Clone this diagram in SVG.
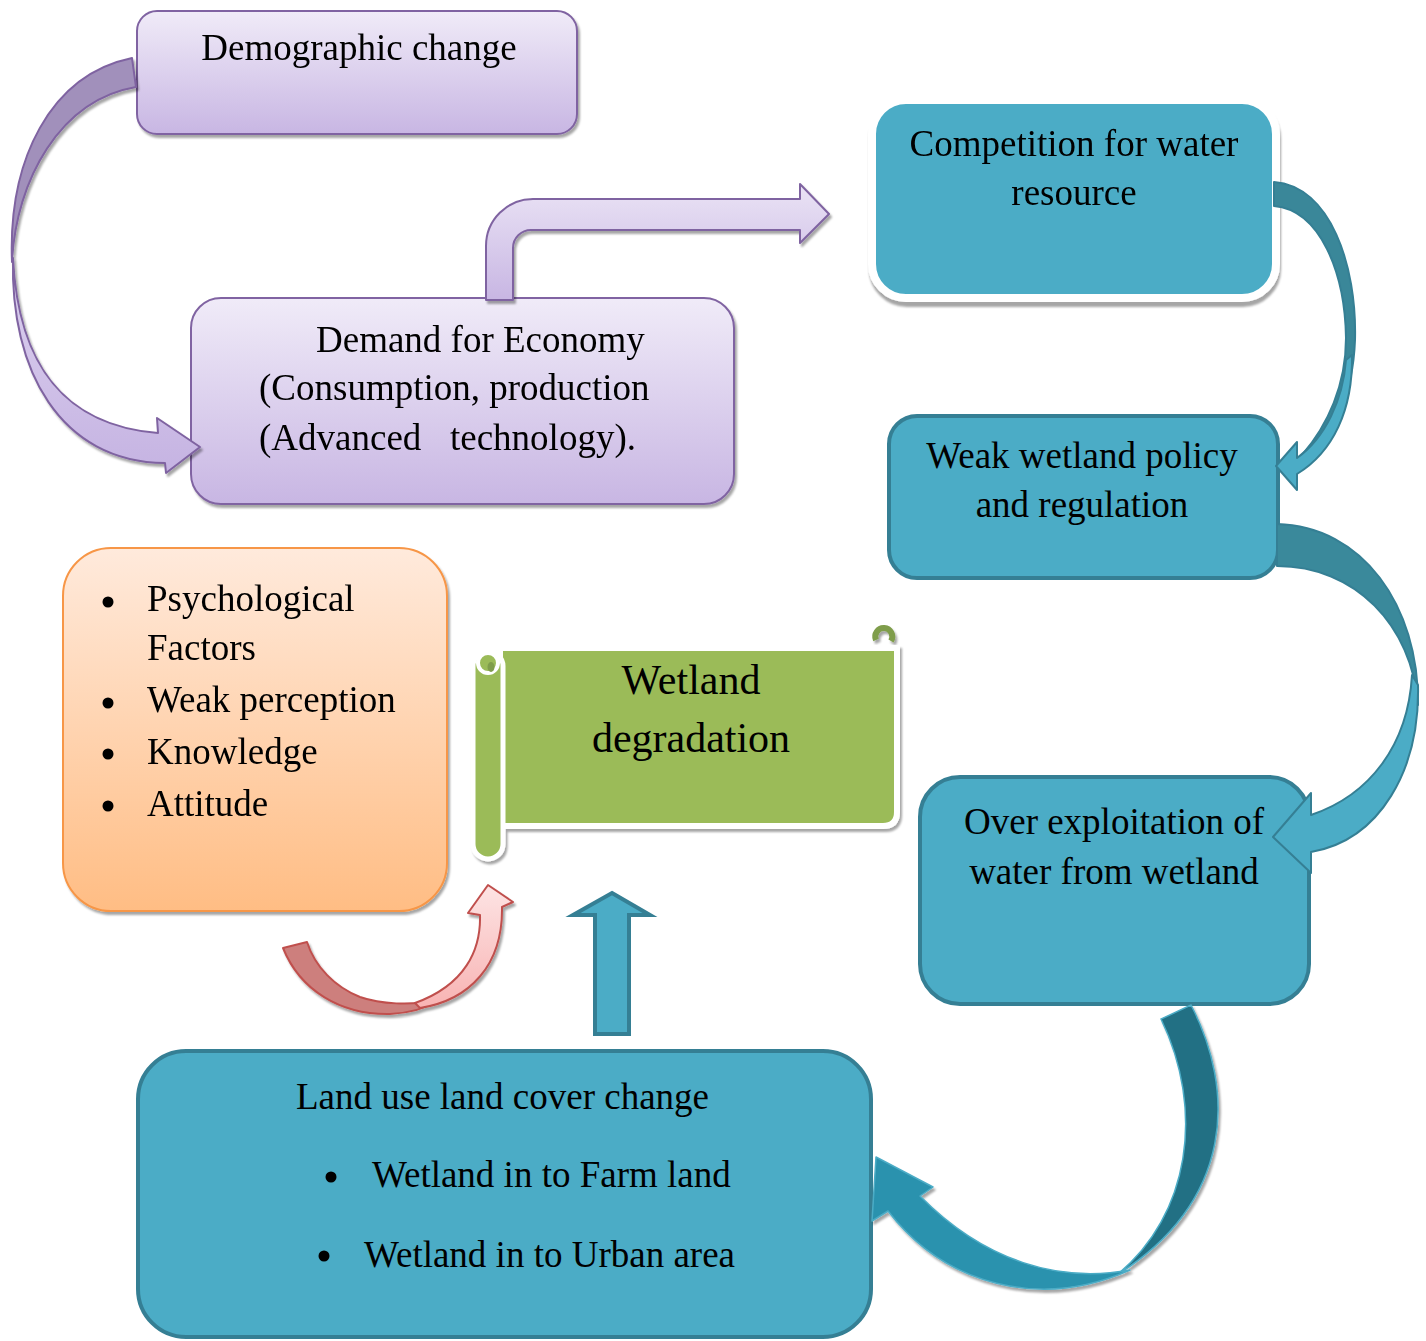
<svg xmlns="http://www.w3.org/2000/svg" width="1426" height="1341" viewBox="0 0 1426 1341">
<defs>
<linearGradient id="gPurple" x1="0" y1="0" x2="0" y2="1"><stop offset="0" stop-color="#F0EBF8"/><stop offset="1" stop-color="#C8B6E3"/></linearGradient>
<linearGradient id="gOrange" x1="0" y1="0" x2="0" y2="1"><stop offset="0" stop-color="#FFEADC"/><stop offset="1" stop-color="#FFBD84"/></linearGradient>
<linearGradient id="gBent" gradientUnits="userSpaceOnUse" x1="0" y1="185" x2="0" y2="300"><stop offset="0" stop-color="#EAE3F5"/><stop offset="1" stop-color="#C8B6E3"/></linearGradient>
<linearGradient id="gPurpleArr" gradientUnits="userSpaceOnUse" x1="0" y1="260" x2="0" y2="475"><stop offset="0" stop-color="#DCD1EF"/><stop offset="1" stop-color="#C5B3E2"/></linearGradient>
<linearGradient id="gRed" gradientUnits="userSpaceOnUse" x1="0" y1="885" x2="0" y2="1010"><stop offset="0" stop-color="#FDE4E4"/><stop offset="1" stop-color="#F8B2B2"/></linearGradient>
<filter id="sh" x="-10%" y="-10%" width="125%" height="130%"><feDropShadow dx="2" dy="3" stdDeviation="1.2" flood-color="#000" flood-opacity="0.35"/></filter>
<filter id="sh2" x="-10%" y="-10%" width="125%" height="130%"><feDropShadow dx="1" dy="5" stdDeviation="1.2" flood-color="#000" flood-opacity="0.35"/></filter>
</defs>
<style>
text{font-family:"Liberation Serif","Times New Roman",serif;font-size:37px;fill:#000}
.c{text-anchor:middle}
.pbox{fill:url(#gPurple);stroke:#8064A2;stroke-width:2}
.tbox{fill:#4BACC6;stroke:#357F94;stroke-width:4}
.parr{stroke:#7F63A1;stroke-width:2;stroke-linejoin:round}
.tarr{stroke:#357F94;stroke-width:2;stroke-linejoin:round}
.rarr{stroke:#C0504D;stroke-width:2;stroke-linejoin:round}
</style>
<rect width="1426" height="1341" fill="#fff"/>

<g id="demographic" filter="url(#sh)">
<rect class="pbox" x="137" y="11" width="440" height="123" rx="20"/>
<text class="c" x="359" y="60">Demographic change</text>
</g>

<g id="demand" filter="url(#sh)">
<rect class="pbox" x="191" y="298" width="543" height="206" rx="30"/>
<text x="316" y="352">Demand for Economy</text>
<text x="259" y="400">(Consumption, production</text>
<text x="259" y="450">(Advanced<tspan x="450">technology).</tspan></text>
</g>

<g id="competition" filter="url(#sh2)">
<rect x="872" y="100" width="404" height="198" rx="34" fill="#4BACC6" stroke="#fff" stroke-width="8"/>
<text class="c" x="1074" y="156">Competition for water</text>
<text class="c" x="1074" y="205">resource</text>
</g>

<g id="weak-policy">
<rect class="tbox" x="889" y="416" width="389" height="162" rx="28"/>
<text class="c" x="1082" y="468">Weak wetland policy</text>
<text class="c" x="1082" y="517">and regulation</text>
</g>

<g id="over-exploitation">
<rect class="tbox" x="920" y="777" width="389" height="227" rx="40"/>
<text class="c" x="1114" y="834">Over exploitation of</text>
<text class="c" x="1114" y="884">water from wetland</text>
</g>

<g id="psychological" filter="url(#sh)">
<rect x="63" y="548" width="384" height="363" rx="48" fill="url(#gOrange)" stroke="#F79646" stroke-width="2"/>
<circle cx="108" cy="602" r="5.5"/>
<circle cx="108" cy="703" r="5.5"/>
<circle cx="108" cy="754" r="5.5"/>
<circle cx="108" cy="806" r="5.5"/>
<text x="147" y="611">Psychological</text>
<text x="147" y="660">Factors</text>
<text x="147" y="712">Weak perception</text>
<text x="147" y="764">Knowledge</text>
<text x="147" y="816">Attitude</text>
</g>

<g id="wetland-degradation">
<g filter="url(#sh)">
<path d="M500,648 L897,648 L897,812 Q897,826 883,826 L500,826 Z" fill="#9BBB59" stroke="#fff" stroke-width="6"/>
<path d="M876,640 A8.5,8.5 0 1 1 891,641" fill="none" stroke="#7F9D4B" stroke-width="6"/>
<rect x="473" y="651" width="30" height="208" rx="15" fill="#9BBB59" stroke="#fff" stroke-width="5"/>
<circle cx="488" cy="663" r="10" fill="#9BBB59" stroke="#fff" stroke-width="4"/>
<ellipse cx="491" cy="667" rx="3.5" ry="5" fill="#7F9D4B"/>
</g>
<text class="c" x="691" y="694" style="font-size:42px">Wetland</text>
<text class="c" x="691" y="752" style="font-size:42px">degradation</text>
</g>

<g id="land-use">
<rect class="tbox" x="138" y="1051" width="733" height="286" rx="48"/>
<text x="296" y="1109">Land use land cover change</text>
<circle cx="331" cy="1177" r="5.5"/>
<text x="372" y="1187">Wetland in to Farm land</text>
<circle cx="324" cy="1256" r="5.5"/>
<text x="364" y="1267">Wetland in to Urban area</text>
</g>

<g id="connectors">
<!-- Demographic -> Demand -->
<g filter="url(#sh)">
<path class="parr" fill="#A190BB" d="M132,58 C50,75 8,160 12,262 C16,180 60,100 136,87 Z"/>
<path class="parr" fill="url(#gPurpleArr)" d="M13,258 C18,360 60,425 158,433 L157,418 L200,447 L166,473 L165,463 C60,462 10,370 13,258 Z"/>
</g>
<!-- Demand -> Competition (bent arrow) -->
<path class="parr" filter="url(#sh)" fill="url(#gBent)" d="M486,300 L486,246 A47,47 0 0 1 533,199 L800,199 L800,184 L829,214 L800,243 L800,230 L531,230 A18,18 0 0 0 513,248 L513,300 Z"/>
<!-- Competition -> Weak -->
<path class="tarr" fill="#3A8799" d="M1274,182 C1330,186 1357,265 1355,340 C1353,392 1336,432 1302,455 C1328,425 1346,385 1346,338 C1345,272 1320,210 1274,206 Z"/>
<path class="tarr" fill="#4BACC6" d="M1352,355 C1353,410 1333,452 1297,474 L1297,490 L1276,466 L1297,442 L1297,458 C1325,438 1343,400 1346,360 Z"/>
<!-- Weak -> Over -->
<path class="tarr" fill="#3A899B" d="M1277,524 C1362,526 1419,605 1418,705 C1412,625 1355,566 1277,566 Z"/>
<path class="tarr" fill="#4BACC6" d="M1412,675 C1408,745 1370,795 1311,815 L1311,793 L1273,837 L1311,873 L1311,852 C1380,840 1420,770 1418,685 Z"/>
<!-- Over -> Land use -->
<g filter="url(#sh)">
<path fill="#216F84" stroke="#4BACC6" stroke-width="1.5" d="M1191,1005 C1235,1090 1235,1200 1117,1275 C1190,1215 1205,1110 1161,1019 Z"/>
<path fill="#2B92AE" stroke="#4BACC6" stroke-width="1.5" stroke-linejoin="round" d="M1130,1270 C1060,1283 985,1262 920,1196 L933,1187 L876,1157 L872,1221 L888,1211 C945,1285 1040,1310 1130,1270 Z"/>
</g>
<!-- Psychological -> Wetland degradation -->
<g filter="url(#sh)">
<path class="rarr" fill="#CD7F7D" d="M283,948 C300,990 340,1015 390,1014 C410,1013 425,1009 440,1000 C410,1006 380,1004 360,997 C335,987 315,967 307,942 Z"/>
<path class="rarr" fill="url(#gRed)" d="M420,1008 C470,1000 503,965 502,907 L513,902 L488,885 L468,913 L480,915 C481,950 465,985 415,1003 Z"/>
</g>
<!-- Land use -> Wetland degradation -->
<path fill="#4BACC6" stroke="#357F94" stroke-width="4" stroke-linejoin="miter" d="M612,893 L650,915 L629,915 L629,1034 L595,1034 L595,915 L573,915 Z"/>
</g>
</svg>
